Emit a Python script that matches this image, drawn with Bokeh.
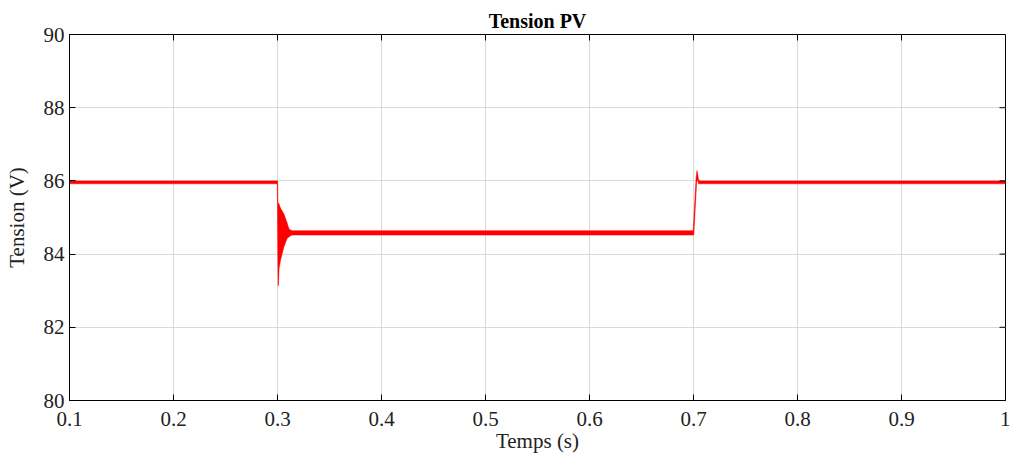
import math
from bokeh.plotting import figure
from bokeh.models import FixedTicker, Range1d
from bokeh.embed import file_html
from bokeh.resources import INLINE

# Envelope of the PV voltage trace (time in s, voltage in V)
t_upper = [0.1, 0.3002, 0.3004, 0.3013, 0.3030, 0.3061, 0.3093, 0.3109, 0.3125, 0.3141,
           0.6997, 0.7025, 0.7033, 0.7040, 0.7048, 0.7065, 1.0]
v_upper = [86.00, 86.00, 85.40, 85.38, 85.25, 85.10, 84.85, 84.70, 84.66, 84.64,
           84.64, 86.10, 86.28, 86.20, 86.04, 86.00, 86.00]
t_lower = [0.1, 0.2998, 0.3003, 0.3006, 0.3009, 0.3015, 0.3029, 0.3061, 0.3093, 0.3125, 0.3141,
           0.7003, 0.7030, 0.7040, 0.7048, 1.0]
v_lower = [85.92, 85.92, 84.00, 83.14, 83.14, 83.60, 83.83, 84.19, 84.43, 84.50, 84.52,
           84.52, 85.95, 86.05, 85.92, 85.92]

x_ticks = [0.1, 0.2, 0.3, 0.4, 0.5, 0.6, 0.7, 0.8, 0.9, 1.0]
x_tick_labels = ["0.1", "0.2", "0.3", "0.4", "0.5", "0.6", "0.7", "0.8", "0.9", "1"]
y_ticks = [80, 82, 84, 86, 88, 90]
y_tick_labels = ["80", "82", "84", "86", "88", "90"]
x_min, x_max = 0.1, 1.0
y_min, y_max = 80, 90

FONT = "Liberation Serif"

p = figure(width=1010, height=458, output_backend="svg", toolbar_location=None,
           x_range=Range1d(x_min, x_max), y_range=Range1d(y_min, y_max),
           title="Tension PV")
p.min_border_left = 69
p.min_border_right = 5
p.min_border_top = 34
p.min_border_bottom = 58

p.title.align = "center"
p.title.text_font = FONT
p.title.text_font_size = "20px"
p.title.text_font_style = "bold"
p.title.text_color = "black"
p.title.standoff = 6

p.outline_line_color = "black"
p.outline_line_width = 1
p.background_fill_color = "white"
p.border_fill_color = "white"

p.xgrid.ticker = FixedTicker(ticks=x_ticks)
p.ygrid.ticker = FixedTicker(ticks=y_ticks)
p.grid.grid_line_color = "#d9d9d9"
p.grid.grid_line_width = 1

poly_x = t_upper + t_lower[::-1]
poly_y = v_upper + v_lower[::-1]
p.patch(poly_x, poly_y, fill_color="#ff0000", line_color="#ff0000", line_width=0.5)

for ax in (p.xaxis[0], p.yaxis[0]):
    ax.major_label_text_font = FONT
    ax.major_label_text_font_size = "21px"
    ax.major_label_text_color = "#222222"
    ax.axis_label_text_font = FONT
    ax.axis_label_text_font_size = "21px"
    ax.axis_label_text_font_style = "normal"
    ax.axis_label_text_color = "#222222"
    ax.axis_line_color = "black"
    ax.major_tick_line_color = "black"
    ax.major_tick_in = 6
    ax.major_tick_out = 0
    ax.minor_tick_line_color = None

p.xaxis[0].ticker = FixedTicker(ticks=x_ticks)
p.xaxis[0].major_label_overrides = {t: l for t, l in zip(x_ticks, x_tick_labels)}
p.xaxis[0].axis_label = "Temps (s)"
p.xaxis[0].axis_label_standoff = 0
p.xaxis[0].major_label_standoff = 11

p.yaxis[0].ticker = FixedTicker(ticks=y_ticks)
p.yaxis[0].major_label_overrides = {t: l for t, l in zip(y_ticks, y_tick_labels)}
p.yaxis[0].axis_label = "Tension (V)"
p.yaxis[0].axis_label_standoff = 12
p.yaxis[0].major_label_standoff = 5

# mirrored inward ticks on the top and right edges of the frame
p.ray(x=x_ticks, y=[y_max] * len(x_ticks), length=6, length_units="screen",
      angle=-math.pi / 2, line_color="black", line_width=1)
p.ray(x=[x_max] * len(y_ticks), y=y_ticks, length=6, length_units="screen",
      angle=math.pi, line_color="black", line_width=1)

open("out.html", "w").write(file_html(p, INLINE))
